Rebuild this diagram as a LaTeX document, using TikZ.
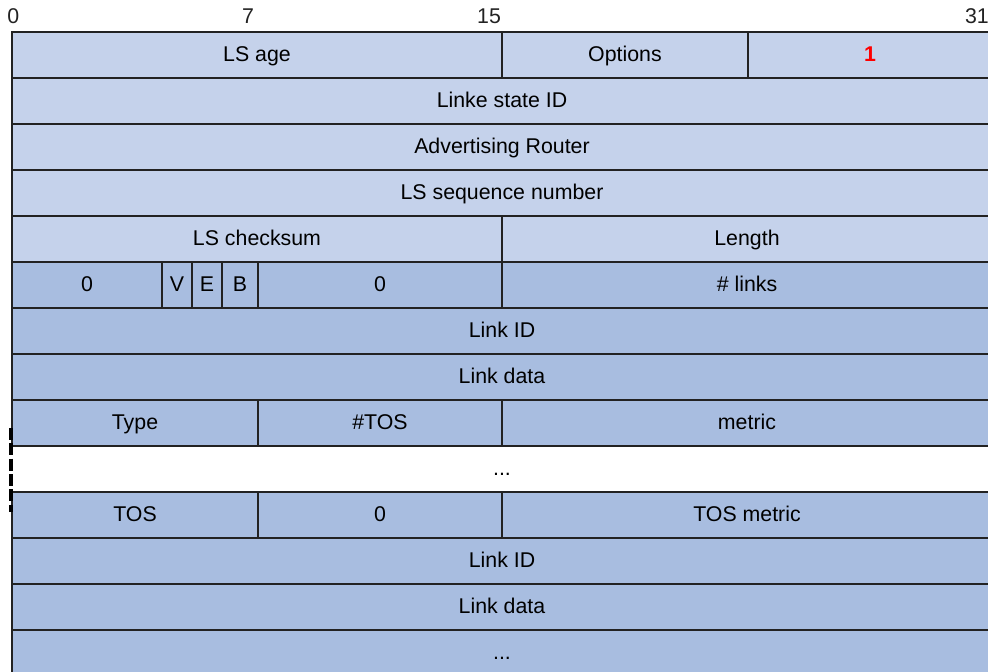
\documentclass[tikz,border=0pt]{standalone}
\usepackage{fontspec}
\setmainfont{Liberation Sans}
\definecolor{lightc}{RGB}{197,210,235}
\definecolor{darkc}{RGB}{168,189,224}
\definecolor{linec}{RGB}{34,34,34}
\begin{document}
\begin{tikzpicture}[x=0.75pt,y=-0.75pt,
  cellbox/.style={draw=linec,line width=1.2pt},
  lbl/.style={font=\fontsize{16pt}{18pt}\selectfont,inner sep=0pt,text=black,anchor=base},
  bitlbl/.style={font=\fontsize{16pt}{18pt}\selectfont,inner sep=0pt,text=linec,anchor=base},
  lightrow/.style={cellbox,fill=lightc},
  darkrow/.style={cellbox,fill=darkc}]
\useasboundingbox (0,0) rectangle (988,671);
\fill[white] (0,0) rectangle (988,671);
% bit labels
\node[bitlbl,anchor=base west] (b0) at (7,23) {0};
\node[bitlbl] (b7) at (248,23) {7};
\node[bitlbl] (b15) at (489,23) {15};
\node[bitlbl,anchor=base east] (b31) at (989,23) {31};
% cell macro
\newcommand{\fieldcell}[7]{%
  \path[#6] (#2,#3) rectangle (#4,#5);
  \node[lbl] (#1) at ({(#2+#4)/2},{#3+29}) {#7};}
% row 1
\fieldcell{lsage}{12}{32}{502}{78}{lightrow}{LS age}
\fieldcell{options}{502}{32}{748}{78}{lightrow}{Options}
\fieldcell{one}{748}{32}{992}{78}{lightrow}{\textcolor{red}{\textbf{1}}}
% rows 2-4
\fieldcell{lsid}{12}{78}{992}{124}{lightrow}{Linke state ID}
\fieldcell{advr}{12}{124}{992}{170}{lightrow}{Advertising Router}
\fieldcell{lsseq}{12}{170}{992}{216}{lightrow}{LS sequence number}
% row 5
\fieldcell{lscs}{12}{216}{502}{262}{lightrow}{LS checksum}
\fieldcell{len}{502}{216}{992}{262}{lightrow}{Length}
% row 6
\fieldcell{zeroa}{12}{262}{162}{308}{darkrow}{0}
\fieldcell{vbit}{162}{262}{192}{308}{darkrow}{V}
\fieldcell{ebit}{192}{262}{222}{308}{darkrow}{E}
\fieldcell{bbit}{222}{262}{258}{308}{darkrow}{B}
\fieldcell{zerob}{258}{262}{502}{308}{darkrow}{0}
\fieldcell{nlinks}{502}{262}{992}{308}{darkrow}{\# links}
% rows 7-8
\fieldcell{linkida}{12}{308}{992}{354}{darkrow}{Link ID}
\fieldcell{linkdataa}{12}{354}{992}{400}{darkrow}{Link data}
% row 9
\fieldcell{type}{12}{400}{258}{446}{darkrow}{Type}
\fieldcell{ntos}{258}{400}{502}{446}{darkrow}{\#TOS}
\fieldcell{metric}{502}{400}{992}{446}{darkrow}{metric}
% row 10 (white, open left side)
\fill[white] (12,446) rectangle (992,492);
\node[lbl] (dotsa) at (502,475) {...};
\draw[linec,line width=1.2pt] (12,446) -- (992,446);
\draw[linec,line width=1.2pt] (12,492) -- (992,492);
% row 11
\fieldcell{tos}{12}{492}{258}{538}{darkrow}{TOS}
\fieldcell{zeroc}{258}{492}{502}{538}{darkrow}{0}
\fieldcell{tosmetric}{502}{492}{992}{538}{darkrow}{TOS metric}
% rows 12-14
\fieldcell{linkidb}{12}{538}{992}{584}{darkrow}{Link ID}
\fieldcell{linkdatab}{12}{584}{992}{630}{darkrow}{Link data}
\fieldcell{dotsrow}{12}{630}{992}{676}{darkrow}{...}
% dashed left mark
\coordinate (dtop) at (11,428);
\coordinate (dbot) at (11,512);
\draw[black,line width=2.4pt,dash pattern=on 9pt off 2.5pt] (dtop) -- (dbot);
\end{tikzpicture}
\end{document}
